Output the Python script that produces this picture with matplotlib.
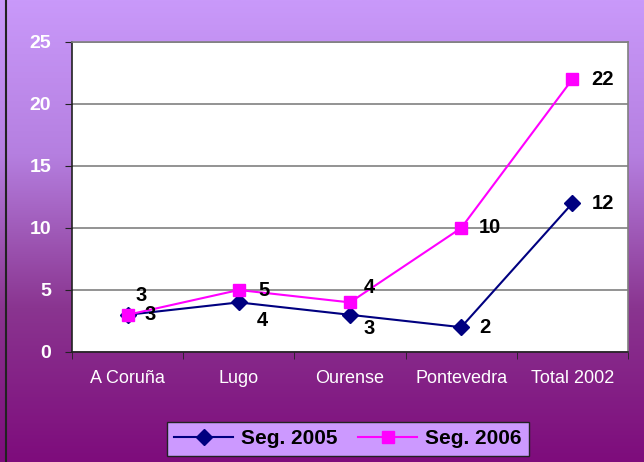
import numpy as np
import matplotlib
matplotlib.use("Agg")
import matplotlib.pyplot as plt
from matplotlib.colors import LinearSegmentedColormap

categories = ["A Coruña", "Lugo", "Ourense", "Pontevedra", "Total 2002"]
seg2005 = [3, 4, 3, 2, 12]
seg2006 = [3, 5, 4, 10, 22]
yticks = [0, 5, 10, 15, 20, 25]

# label offsets in points (style only)
off2005 = [(16, 0), (17, -13), (14, -10), (17, 0), (22, 0)]
off2006 = [(10, 14), (18, 0), (14, 11), (21, 0), (22, 0)]

plt.rcParams['font.family'] = ['Liberation Sans', 'DejaVu Sans']

fig = plt.figure(figsize=(6.44, 4.62), dpi=100)

# gradient background
bg = fig.add_axes([0, 0, 1, 1], zorder=-10)
cmap = LinearSegmentedColormap.from_list("bg", ["#C999FA", "#B57FE0", "#8A3590", "#7E0C7C"],)
grad = np.linspace(0, 1, 256).reshape(-1, 1)
bg.imshow(grad, aspect="auto", cmap=cmap, extent=[0, 1, 0, 1], origin="upper")
bg.plot([0.009, 0.009], [0, 1], color="#222222", lw=1.5)
bg.set_xlim(0, 1); bg.set_ylim(0, 1)
bg.axis("off")

W, H = 644, 462
ax = fig.add_axes([72 / W, (H - 352) / H, (628 - 72) / W, (352 - 42) / H])
ax.set_facecolor("white")
x = np.arange(len(categories))
ax.plot(x, seg2005, color="#000080", lw=1.5, marker="D", ms=8,
        mfc="#000080", mec="#000080", label="Seg. 2005", zorder=3)
ax.plot(x, seg2006, color="#FF00FF", lw=1.5, marker="s", ms=8.5,
        mfc="#FF00FF", mec="#FF00FF", label="Seg. 2006", zorder=4)

for i, v in enumerate(seg2005):
    ax.annotate(str(v), (x[i], v), xytext=off2005[i], textcoords="offset points",
                ha="center", va="center", fontsize=14.5, fontweight="bold", color="black", zorder=5)
for i, v in enumerate(seg2006):
    ax.annotate(str(v), (x[i], v), xytext=off2006[i], textcoords="offset points",
                ha="center", va="center", fontsize=14.5, fontweight="bold", color="black", zorder=5)

ax.set_xlim(-0.5, len(categories) - 0.5)
ax.set_ylim(0, 25)
ax.set_yticks(yticks)
ax.set_yticklabels([str(t) for t in yticks], color="white", fontsize=14, fontweight="bold")
ax.set_xticks(x)
ax.set_xticklabels(categories, color="white", fontsize=13)
ax.tick_params(axis="x", length=0, pad=13)
ax.set_xticks(np.arange(len(categories) + 1) - 0.5, minor=True)
ax.tick_params(axis="x", which="minor", length=5, color="#222222", direction="out")
ax.tick_params(axis="y", length=5, color="#222222", direction="out", pad=10)
ax.grid(axis="y", color="#808080", lw=1.2)
ax.set_axisbelow(True)
for s in ["top", "right"]:
    ax.spines[s].set_color("#808080")
    ax.spines[s].set_linewidth(1.2)
for s in ["left", "bottom"]:
    ax.spines[s].set_color("#222222")
    ax.spines[s].set_linewidth(1.2)

leg = fig.legend(loc="center", bbox_to_anchor=((172 + 524) / 2 / W, 1 - 439 / H),
                 ncol=2, frameon=True, fancybox=False,
                 prop={"weight": "bold", "size": 15}, handlelength=2.8,
                 columnspacing=1.0, handletextpad=0.4, borderpad=0.35)
leg.get_frame().set_facecolor("#CC99FF")
leg.get_frame().set_edgecolor("#222222")
leg.get_frame().set_alpha(1)

fig.savefig("out.png", dpi=100)
